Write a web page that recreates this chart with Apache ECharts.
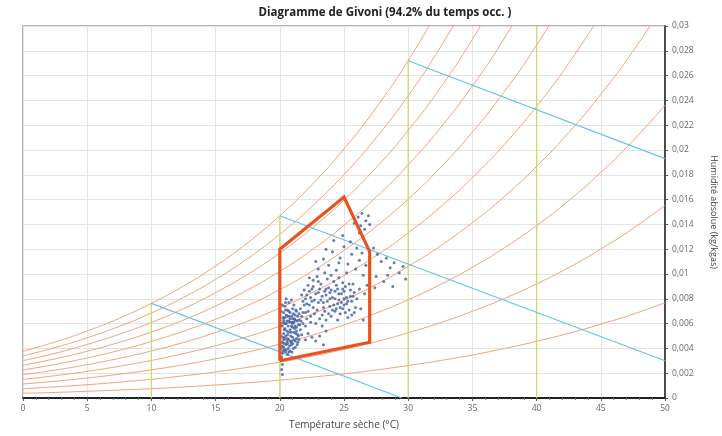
<!DOCTYPE html>
<html><head><meta charset="utf-8">
<script src="https://cdn.jsdelivr.net/npm/echarts@6/dist/echarts.min.js"></script>
<style>html,body{margin:0;padding:0;background:#fff}#c{width:722px;height:436px}</style>
</head><body><div id="c"></div>
<script>
const TITLE = 'Diagramme de Givoni (94.2% du temps occ. )';
const X_NAME = 'Température sèche (°C)';
const Y_NAME = 'Humidité absolue (kg/kgas)';
const Y_TICK_LABELS = ['0','0,002','0,004','0,006','0,008','0,01','0,012','0,014','0,016','0,018','0,02','0,022','0,024','0,026','0,028','0,03'];
const X_TICK_LABELS = ['0','5','10','15','20','25','30','35','40','45','50'];

const TEMPS = [0,2.5,5,7.5,10,12.5,15,17.5,20,22.5,25,27.5,30,32.5,35,37.5,40,42.5,45,47.5,50];
const RH10 = [0.00038,0.00045,0.00054,0.00064,0.00075,0.00089,0.00105,0.00123,0.00144,0.00168,0.00195,0.00226,0.00262,0.00302,0.00347,0.00399,0.00457,0.00522,0.00595,0.00676,0.00768];
const RH20 = [0.00075,0.00090,0.00107,0.00128,0.00151,0.00179,0.00210,0.00247,0.00289,0.00337,0.00392,0.00454,0.00526,0.00607,0.00699,0.00803,0.00920,0.01052,0.01201,0.01367,0.01554];
const RH30 = [0.00113,0.00135,0.00161,0.00192,0.00227,0.00268,0.00316,0.00371,0.00434,0.00506,0.00589,0.00684,0.00792,0.00915,0.01054,0.01212,0.01390,0.01592,0.01819,0.02074,0.02361];
const RH40 = [0.00150,0.00180,0.00215,0.00256,0.00303,0.00358,0.00422,0.00495,0.00580,0.00677,0.00788,0.00915,0.01061,0.01226,0.01414,0.01626,0.01868,0.02140,0.02449,0.02796,0.03188];
const RH50 = [0.00188,0.00225,0.00269,0.00320,0.00379,0.00448,0.00528,0.00620,0.00726,0.00848,0.00988,0.01148,0.01331,0.01540,0.01777,0.02046,0.02352,0.02699,0.03091];
const RH60 = [0.00226,0.00271,0.00323,0.00384,0.00456,0.00539,0.00635,0.00746,0.00874,0.01021,0.01190,0.01383,0.01604,0.01857,0.02145,0.02472,0.02844,0.03267];
const RH70 = [0.00264,0.00316,0.00377,0.00449,0.00532,0.00629,0.00742,0.00872,0.01022,0.01194,0.01393,0.01620,0.01880,0.02177,0.02517,0.02903,0.03344];
const RH80 = [0.00302,0.00361,0.00432,0.00514,0.00609,0.00720,0.00849,0.00998,0.01170,0.01369,0.01597,0.01858,0.02158,0.02501,0.02893,0.03340];
const RH90 = [0.00340,0.00407,0.00486,0.00578,0.00686,0.00811,0.00957,0.01125,0.01320,0.01544,0.01802,0.02098,0.02438,0.02828,0.03274];
const RH100 = [0.00377,0.00452,0.00540,0.00643,0.00763,0.00903,0.01065,0.01253,0.01470,0.01720,0.02009,0.02340,0.02721,0.03158];
const RH_CURVES = [RH10,RH20,RH30,RH40,RH50,RH60,RH70,RH80,RH90,RH100];

const ENTHALPY_LINES = [
  [[10,0.00763],[29.5,0]],
  [[20,0.0147],[50,0.0030]],
  [[30,0.0272],[50,0.0193]]
];
const DRY_BULB_T = [10,20,30,40];
const DRY_BULB_TOP = [0.00763,0.0147,0.0272,0.03];

const COMFORT_T = [20,20,25,27,27,20];
const COMFORT_W = [0.0030,0.0120,0.0162,0.0118,0.0045,0.0030];

const POINTS = [
[20.2,0.0036],[20.3,0.0041],[20.2,0.0045],[20.4,0.0048],[20.3,0.0052],[20.5,0.0039],[20.6,0.0044],[20.4,0.0056],[20.5,0.0060],[20.3,0.0063],
[20.6,0.0051],[20.7,0.0047],[20.8,0.0055],[20.5,0.0067],[20.7,0.0062],[20.9,0.0043],[20.8,0.0038],[21.0,0.0049],[21.1,0.0053],[20.9,0.0058],
[21.0,0.0064],[20.6,0.0071],[20.8,0.0069],[21.2,0.0046],[21.3,0.0057],[21.1,0.0061],[21.2,0.0067],[20.4,0.0074],[20.7,0.0077],[21.0,0.0072],
[21.4,0.0051],[21.5,0.0063],[21.3,0.0070],[20.3,0.0069],[20.2,0.0058],[20.25,0.0049],[20.35,0.0044],[20.45,0.0037],[20.55,0.0054],[20.65,0.0058],
[20.75,0.0042],[20.85,0.0050],[20.95,0.0066],[21.05,0.0040],[21.15,0.0056],[21.25,0.0052],[21.35,0.0062],[21.45,0.0059],[20.5,0.0080],[20.9,0.0079],
[21.6,0.0055],[21.7,0.0066],[21.1,0.0075],[20.2,0.0042],[20.3,0.0061],[20.4,0.0065],[20.6,0.0066],[20.7,0.0053],[20.9,0.0046],[21.0,0.0057],
[21.2,0.0041],[21.4,0.0045],[20.35,0.0039],[20.55,0.0046],[20.8,0.0061],[21.3,0.0048],[20.6,0.0035],[21.5,0.0068],[21.8,0.0060],[20.45,0.0071],
[20.1,0.0040],[20.1,0.0050],[20.1,0.0060],[20.1,0.0070],[20.2,0.0075],[20.25,0.0065],[20.35,0.0055],[20.45,0.0050],[20.5,0.0043],[20.55,0.0062],
[20.65,0.0040],[20.7,0.0070],[20.75,0.0066],[20.85,0.0045],[20.9,0.0053],[20.95,0.0061],[21.0,0.0044],[21.05,0.0068],[21.1,0.0047],[21.15,0.0064],
[21.2,0.0058],[21.25,0.0071],[21.3,0.0054],[21.35,0.0043],[21.4,0.0066],[21.45,0.0050],[21.55,0.0059],[21.65,0.0062],[20.3,0.0047],[20.4,0.0060],
[20.6,0.0048],[20.8,0.0064],[21.0,0.0060],[21.2,0.0063],[20.25,0.0038],[20.45,0.0077],[20.7,0.0037],[20.95,0.0037],[21.5,0.0047],[21.7,0.0051],
[21.6,0.0072],[21.8,0.0078],[22.0,0.0069],[22.1,0.0083],[22.3,0.0075],[22.5,0.0088],[22.4,0.0066],[22.7,0.0079],[22.9,0.0071],[23.0,0.0085],
[23.2,0.0092],[23.1,0.0064],[23.4,0.0077],[23.6,0.0083],[23.5,0.0070],[23.8,0.0089],[23.9,0.0074],[24.1,0.0081],[24.0,0.0066],[24.3,0.0086],
[24.4,0.0072],[24.6,0.0079],[24.8,0.0084],[24.7,0.0068],[25.0,0.0075],[25.2,0.0081],[25.1,0.0090],[25.4,0.0071],[25.6,0.0078],[25.8,0.0085],
[22.2,0.0091],[22.6,0.0095],[22.8,0.0060],[23.3,0.0058],[23.7,0.0096],[24.2,0.0094],[24.5,0.0063],[24.9,0.0093],[25.3,0.0065],[25.7,0.0092],
[21.9,0.0087],[22.0,0.0058],[22.4,0.0081],[22.6,0.0073],[23.0,0.0077],[23.3,0.0082],[23.6,0.0063],[23.9,0.0080],[24.2,0.0075],[24.5,0.0088],
[24.8,0.0077],[25.1,0.0069],[25.5,0.0087],[26.0,0.0080],[21.7,0.0083],[22.9,0.0098],[23.5,0.0101],[24.0,0.0099],[24.6,0.0097],[25.9,0.0073],
[26.2,0.0088],[22.1,0.0064],[22.3,0.0097],[23.8,0.0068],[24.3,0.0070],[25.0,0.0086],[25.6,0.0067],
[21.9,0.0075],[22.2,0.0070],[22.5,0.0078],[22.8,0.0084],[23.1,0.0088],[23.4,0.0073],[23.7,0.0078],[24.0,0.0087],[24.3,0.0080],[24.6,0.0084],
[24.9,0.0072],[25.2,0.0076],[25.5,0.0082],[25.8,0.0069],[22.3,0.0086],[22.7,0.0068],[23.2,0.0079],[23.6,0.0088],[24.1,0.0071],[24.5,0.0076],
[25.0,0.0080],[25.4,0.0092],[22.0,0.0080],[22.4,0.0061],[23.0,0.0094],[23.5,0.0086],[24.4,0.0091],[24.9,0.0088],[25.3,0.0078],[21.8,0.0069],
[22.6,0.0090],[23.9,0.0085],[24.7,0.0073],[25.7,0.0082],[23.3,0.0067],[22.1,0.0076],
[22.2,0.0052],[22.5,0.0049],[22.8,0.0046],[23.1,0.0050],[23.4,0.0043],[22.0,0.0047],[23.6,0.0054],
[23.0,0.0104],[23.4,0.0112],[23.8,0.0107],[24.1,0.0118],[24.4,0.0103],[24.7,0.0113],[25.0,0.0122],[25.3,0.0108],[25.6,0.0116],[25.9,0.0104],
[26.2,0.0111],[26.5,0.0099],[26.7,0.0107],[24.2,0.0127],[24.9,0.0131],[25.5,0.0126],[23.6,0.0120],[26.0,0.0121],[22.8,0.0110],[24.6,0.0109],
[25.2,0.0101],[26.4,0.0117],
[26.1,0.0146],[26.4,0.0149],[26.7,0.0143],[26.9,0.0147],[26.3,0.0139],[26.6,0.0136],[27.0,0.0140],[26.2,0.0133],[25.8,0.0141],
[27.3,0.0121],[27.6,0.0116],[27.9,0.0110],[28.3,0.0113],[28.6,0.0105],[28.9,0.0109],[29.3,0.0101],[29.6,0.0106],[27.5,0.0098],[28.1,0.0094],
[28.8,0.0090],[29.8,0.0096],[27.4,0.0089],[28.4,0.0099],
[20.15,0.0031],[20.2,0.0027],[20.15,0.0023],[20.2,0.0019],[20.15,0.0033],
[26.3,0.0072],[26.6,0.0084],[26.8,0.0091],[26.5,0.0063]
];

const FONT = 'Open Sans';
const series = [];
RH_CURVES.forEach(arr => {
  series.push({type:'line', data: arr.map((w,i)=>[TEMPS[i], w]), smooth:true, showSymbol:false, silent:true,
    lineStyle:{color:'#f0a27a', width:1}, z:2});
});
DRY_BULB_T.forEach((t,i) => {
  series.push({type:'line', data:[[t,0],[t,DRY_BULB_TOP[i]]], showSymbol:false, silent:true,
    lineStyle:{color:'#c9dc6a', width:1.3}, z:3});
});
ENTHALPY_LINES.forEach(l => {
  series.push({type:'line', data:l, showSymbol:false, silent:true, lineStyle:{color:'#62c6e2', width:1.2}, z:3});
});
series.push({type:'scatter', data:POINTS, symbolSize:3, itemStyle:{color:'#3d5c9f'}, silent:true, z:5});
series.push({type:'line', data: COMFORT_T.map((t,i)=>[t, COMFORT_W[i]]), showSymbol:false, silent:true,
  lineStyle:{color:'#e8531d', width:3.2, join:'miter'}, z:6});

const chart = echarts.init(document.getElementById('c'), null, {renderer:'canvas'});
chart.setOption({
  animation:false,
  backgroundColor:'#fff',
  title:{text:TITLE, left:380, top:2, textAlign:'center',
    textStyle:{fontFamily:FONT, fontSize:11.5, fontWeight:'bold', color:'#222'}},
  grid:{left:23, right:57, top:26, bottom:38, show:true, borderColor:'#9a9a9a', borderWidth:1.5,
    containLabel:false, outerBoundsMode:'none'},
  xAxis:{type:'value', min:0, max:50, interval:5,
    name:X_NAME, nameLocation:'middle', nameGap:22,
    nameTextStyle:{fontFamily:FONT, fontSize:10, color:'#444'},
    axisLine:{show:true, onZero:false, lineStyle:{color:'#222', width:2}},
    axisTick:{show:true, length:3, lineStyle:{color:'#555'}},
    minorTick:{show:true, splitNumber:5, length:2, lineStyle:{color:'#777'}},
    axisLabel:{fontFamily:FONT, fontSize:8.5, color:'#666', margin:6,
      formatter:(v)=>X_TICK_LABELS[Math.round(v/5)]},
    splitLine:{show:true, lineStyle:{color:'#e4e4e4', width:1}}},
  yAxis:{type:'value', position:'right', min:0, max:0.03, interval:0.002,
    name:Y_NAME, nameLocation:'middle', nameRotate:-90, nameGap:44,
    nameTextStyle:{fontFamily:FONT, fontSize:9, color:'#444'},
    axisLine:{show:true, onZero:false, lineStyle:{color:'#222', width:1.5}},
    axisTick:{show:true, length:3, lineStyle:{color:'#555'}},
    axisLabel:{fontFamily:FONT, fontSize:8.5, color:'#666', margin:7,
      formatter:(v)=>Y_TICK_LABELS[Math.round(v/0.002)]},
    splitLine:{show:true, lineStyle:{color:'#e4e4e4', width:1}}},
  series:series
});
</script></body></html>
